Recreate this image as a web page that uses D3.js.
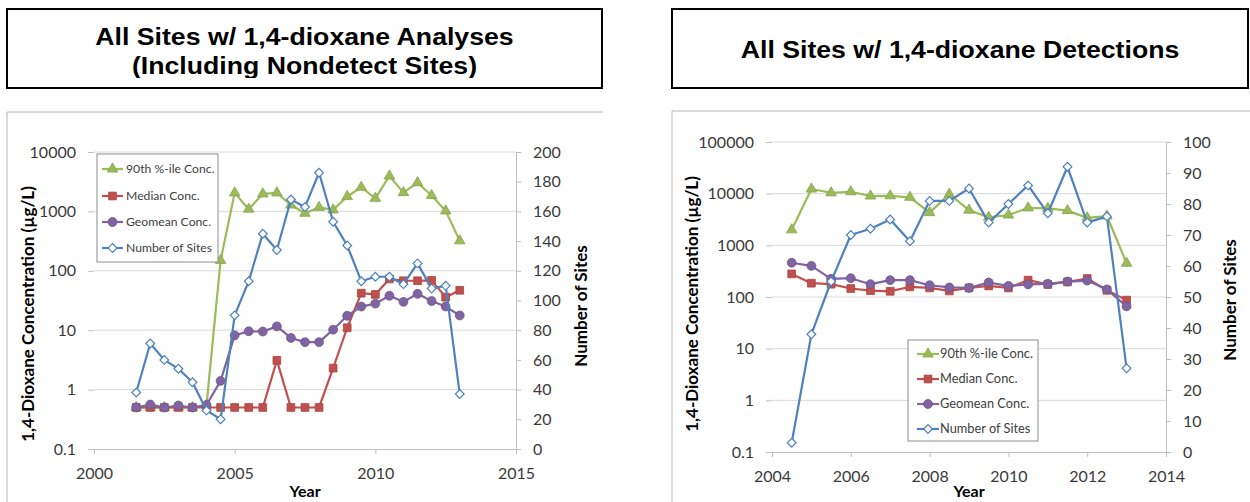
<!DOCTYPE html>
<html>
<head>
<meta charset="utf-8">
<script src="https://cdn.jsdelivr.net/npm/d3@7"></script>
<style>
  body { margin: 0; background: #fff; }
  svg { display: block; }
</style>
</head>
<body>
<div id="viz"></div>
<script>
// ---- data ----
// left: all sites with 1,4-dioxane analyses (incl. nondetects)
const yearsAll = [2001.5, 2002, 2002.5, 2003, 2003.5, 2004, 2004.5, 2005, 2005.5, 2006, 2006.5, 2007,
                  2007.5, 2008, 2008.5, 2009, 2009.5, 2010, 2010.5, 2011, 2011.5, 2012, 2012.5, 2013];
const p90All     = [0.5, 0.5, 0.5, 0.5, 0.5, 0.55, 150, 2050, 1090, 1970, 2050, 1280,
                    930, 1170, 1060, 1780, 2550, 1660, 3950, 2070, 3050, 1850, 1020, 320];
const medianAll  = [0.5, 0.5, 0.5, 0.5, 0.5, 0.5, 0.5, 0.5, 0.5, 0.5, 3.1, 0.5,
                    0.5, 0.5, 2.3, 11, 42, 40, 73, 68, 68, 69, 36, 47];
const geomeanAll = [0.5, 0.56, 0.5, 0.54, 0.5, 0.55, 1.4, 8.2, 9.6, 9.5, 11.6, 7.4,
                    6.3, 6.3, 10.2, 17.5, 25, 28, 38, 30, 41, 31, 25, 17.7];
const sitesAll   = [38, 71, 60, 54, 45, 26, 20, 90, 113, 145, 134, 168,
                    163, 186, 153, 137, 113, 116, 116, 111, 125, 108, 110, 37];

// right: sites with detections only
const yearsDet   = [2004.5, 2005, 2005.5, 2006, 2006.5, 2007, 2007.5, 2008, 2008.5,
                    2009, 2009.5, 2010, 2010.5, 2011, 2011.5, 2012, 2012.5, 2013];
const p90Det     = [2000, 12300, 10400, 10900, 9000, 9100, 8500, 4300, 9800,
                    4800, 3500, 3850, 5300, 5200, 4700, 3400, 3700, 450];
const medianDet  = [280, 185, 177, 146, 133, 129, 157, 150, 131,
                    150, 164, 150, 212, 175, 196, 228, 135, 87];
const geomeanDet = [460, 400, 225, 231, 177, 212, 212, 169, 153,
                    150, 191, 164, 175, 180, 199, 208, 140, 66];
const sitesDet   = [3, 38, 55, 70, 72, 75, 68, 81, 81,
                    85, 74, 80, 86, 77, 92, 74, 76, 27];

// ticks
const xTicksAll  = [2000, 2005, 2010, 2015];
const xTicksDet  = [2004, 2006, 2008, 2010, 2012, 2014];
const yTicksAll  = [0.1, 1, 10, 100, 1000, 10000];
const yTicksDet  = [0.1, 1, 10, 100, 1000, 10000, 100000];
const y2TicksAll = [0, 20, 40, 60, 80, 100, 120, 140, 160, 180, 200];
const y2TicksDet = [0, 10, 20, 30, 40, 50, 60, 70, 80, 90, 100];

const seriesNames  = ['90th %-ile Conc.', 'Median Conc.', 'Geomean Conc.', 'Number of Sites'];
const seriesColors = ['#9BBB59', '#C0504D', '#8064A2', '#4F81BD'];

const width = 1250, height = 502;
const tickFont = 'Lato, "Open Sans", sans-serif';

const svg = d3.select('#viz').append('svg')
  .attr('width', width)
  .attr('height', height);

// marker shapes per series (Excel 2007 style)
const markers = [
  { type: d3.symbolTriangle, size: 48, rot: 0 },
  { type: d3.symbolSquare, size: 60, rot: 0 },
  { type: d3.symbolCircle, size: 62, rot: 0 },
  { type: d3.symbolSquare, size: 38, rot: 45 },
];

function drawMarker(g, i, x, y) {
  const m = markers[i];
  g.append('path')
    .attr('d', d3.symbol().type(m.type).size(m.size)())
    .attr('transform', `translate(${x},${y}) rotate(${m.rot})`)
    .attr('fill', i === 3 ? '#fff' : seriesColors[i])
    .attr('stroke', i === 3 ? seriesColors[i] : d3.color(seriesColors[i]).darker(0.4))
    .attr('stroke-width', i === 3 ? 1.2 : 0.8);
}

const charts = [
  {
    titleLines: ['All Sites w/ 1,4-dioxane Analyses', '(Including Nondetect Sites)'],
    titleBaselines: [45, 74],
    box: { x: 7, y: 9, w: 595, h: 79 },
    frameX: 7, frameRight: 603, frameTop: 112,
    plot: { left: 94, right: 516, top: 152, bottom: 449 },
    xDomain: [2000, 2015], xTicks: xTicksAll,
    yDomain: [0.1, 10000], yTicks: yTicksAll,
    y2Domain: [0, 200], y2Ticks: y2TicksAll,
    years: yearsAll,
    series: [p90All, medianAll, geomeanAll, sitesAll],
    yTitleX: 28, yTitleY: 314, y2TitleX: 581, y2TitleY: 306,
    legend: { x: 97, y: 154, w: 121, h: 108, rows: [15, 42, 68, 94], lx0: 5, lx1: 26, tx: 29, fs: 12.2 },
  },
  {
    titleLines: ['All Sites w/ 1,4-dioxane Detections'],
    titleBaselines: [58],
    box: { x: 672, y: 9, w: 576, h: 79 },
    frameX: 672, frameRight: 1252, frameTop: 111,
    plot: { left: 772, right: 1166, top: 142, bottom: 452 },
    xDomain: [2004, 2014], xTicks: xTicksDet,
    yDomain: [0.1, 100000], yTicks: yTicksDet,
    y2Domain: [0, 100], y2Ticks: y2TicksDet,
    years: yearsDet,
    series: [p90Det, medianDet, geomeanDet, sitesDet],
    yTitleX: 692, yTitleY: 304, y2TitleX: 1230, y2TitleY: 300,
    legend: { x: 908, y: 340, w: 130, h: 101, rows: [14, 39, 64, 89], lx0: 9, lx1: 31, tx: 32, fs: 12.8 },
  },
];

charts.forEach((c, ci) => {
  const g = svg.append('g');

  // title box
  g.append('rect')
    .attr('x', c.box.x).attr('y', c.box.y)
    .attr('width', c.box.w).attr('height', c.box.h)
    .attr('fill', '#fff').attr('stroke', '#000').attr('stroke-width', 2);

  // the 2nd title line is cut just under its baseline in the source
  svg.append('clipPath').attr('id', 'clip-title-' + ci)
    .append('rect')
    .attr('x', c.box.x).attr('y', c.box.y)
    .attr('width', c.box.w).attr('height', 69);

  const cx = c.box.x + c.box.w / 2;
  const tg = g.append('g').attr('clip-path', `url(#clip-title-${ci})`);
  c.titleLines.forEach((t, i) => {
    tg.append('text')
      .attr('transform', `translate(${cx},${c.titleBaselines[i]}) scale(1.16,1)`)
      .attr('text-anchor', 'middle')
      .style('font-family', '"Liberation Sans", Arial, sans-serif')
      .style('font-weight', 'bold')
      .style('font-size', '23px')
      .attr('fill', '#000')
      .text(t);
  });

  // chart frame (left + top edges visible)
  g.append('path')
    .attr('d', `M${c.frameX},${height + 2}V${c.frameTop}H${c.frameRight}`)
    .attr('fill', 'none').attr('stroke', '#b8b8b8').attr('stroke-width', 1);

  // scales
  const x = d3.scaleLinear().domain(c.xDomain).range([c.plot.left, c.plot.right]);
  const y = d3.scaleLog().domain(c.yDomain).range([c.plot.bottom, c.plot.top]);
  const y2 = d3.scaleLinear().domain(c.y2Domain).range([c.plot.bottom, c.plot.top]);

  // gridlines
  g.append('g')
    .selectAll('line')
    .data(c.yTicks.slice(1))
    .join('line')
    .attr('x1', c.plot.left).attr('x2', c.plot.right)
    .attr('y1', d => y(d)).attr('y2', d => y(d))
    .attr('stroke', '#d9d9d9').attr('stroke-width', 1);

  const styleAxis = ax => {
    ax.selectAll('.domain').attr('stroke', '#bfbfbf');
    ax.selectAll('.tick line').attr('stroke', '#bfbfbf');
    ax.selectAll('.tick text')
      .style('font-family', tickFont)
      .style('font-size', '16px')
      .attr('fill', '#3a3a3a');
  };

  // left axis (no line, just ticks)
  const yAx = g.append('g')
    .attr('transform', `translate(${c.plot.left},0)`)
    .call(d3.axisLeft(y).tickValues(c.yTicks).tickFormat(d => String(d)).tickSize(6).tickPadding(12));
  styleAxis(yAx);
  yAx.select('.domain').remove();

  // x axis
  const xAx = g.append('g')
    .attr('transform', `translate(0,${c.plot.bottom})`)
    .call(d3.axisBottom(x).tickValues(c.xTicks).tickFormat(d3.format('d')).tickSize(5).tickSizeOuter(0).tickPadding(14));
  styleAxis(xAx);

  // secondary axis
  const y2Ax = g.append('g')
    .attr('transform', `translate(${c.plot.right},0)`)
    .call(d3.axisRight(y2).tickValues(c.y2Ticks).tickSize(5).tickSizeOuter(0).tickPadding(12));
  styleAxis(y2Ax);

  // axis titles
  const axisTitle = (tx, ty, rot, label, size) => g.append('text')
    .attr('transform', `translate(${tx},${ty}) rotate(${rot})`)
    .attr('text-anchor', 'middle')
    .attr('dy', '0.35em')
    .style('font-family', tickFont)
    .style('font-weight', 'bold')
    .style('font-size', size + 'px')
    .attr('fill', '#000')
    .text(label);

  axisTitle(c.yTitleX, c.yTitleY, -90, '1,4-Dioxane Concentration (µg/L)', 17);
  axisTitle(c.y2TitleX, c.y2TitleY, -90, 'Number of Sites', 17);
  axisTitle((c.plot.left + c.plot.right) / 2, 491, 0, 'Year', 16);

  // series
  c.series.forEach((vals, si) => {
    const sy = si === 3 ? y2 : y;
    const pts = c.years.map((yr, k) => [x(yr), sy(vals[k])]);
    const sg = g.append('g').attr('class', 'series-' + si);
    sg.append('path')
      .attr('d', d3.line()(pts))
      .attr('fill', 'none')
      .attr('stroke', seriesColors[si])
      .attr('stroke-width', 2.2)
      .attr('stroke-linejoin', 'round');
    pts.forEach(p => drawMarker(sg, si, p[0], p[1]));
  });

  // legend
  const L = c.legend;
  const lg = g.append('g').attr('transform', `translate(${L.x},${L.y})`);
  lg.append('rect')
    .attr('width', L.w).attr('height', L.h)
    .attr('fill', '#fff').attr('stroke', '#8c8c8c').attr('stroke-width', 1);
  seriesNames.forEach((name, si) => {
    const ry = L.rows[si];
    lg.append('line')
      .attr('x1', L.lx0).attr('x2', L.lx1)
      .attr('y1', ry).attr('y2', ry)
      .attr('stroke', seriesColors[si]).attr('stroke-width', 2.2);
    drawMarker(lg, si, (L.lx0 + L.lx1) / 2, ry);
    lg.append('text')
      .attr('x', L.tx).attr('y', ry)
      .attr('dy', '0.35em')
      .style('font-family', tickFont)
      .style('font-size', L.fs + 'px')
      .attr('fill', '#404040')
      .text(name);
  });
});
</script>
</body>
</html>
